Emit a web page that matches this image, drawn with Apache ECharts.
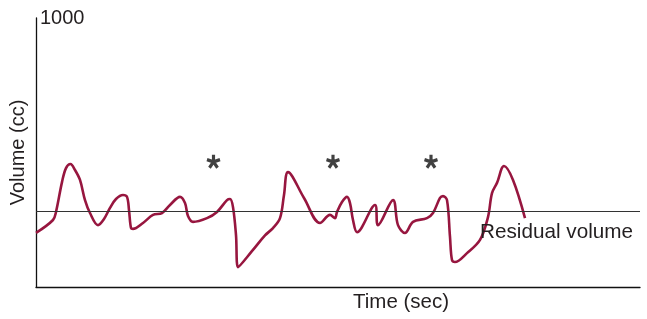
<!DOCTYPE html>
<html>
<head>
<meta charset="utf-8">
<script src="https://cdn.jsdelivr.net/npm/echarts@6/dist/echarts.min.js"></script>
<style>
  html, body { margin: 0; padding: 0; background: #fff; }
  #chart { width: 647px; height: 319px; }
</style>
</head>
<body>
<div id="chart"></div>
<script>
  // traced volume curve (time in arbitrary sec units, volume in cc)
  const times = [
    0, 1.7, 2.0, 2.6, 3.0, 3.45, 3.9, 4.4, 4.9, 5.4, 6.2, 6.8, 7.4, 8.0, 8.7,
    9.1, 9.3, 9.5, 9.7, 10.7, 11.7, 12.6, 13.4, 14.4, 14.9, 15.2, 15.7, 17.1,
    18.1, 19.1, 19.4, 19.7, 20.0, 20.2, 21.7, 22.9, 23.7, 24.4, 24.8, 25.2,
    26.8, 28.4, 29.4, 29.9, 30.1, 30.6, 31.1, 31.4, 31.7, 32.1, 33.9, 34.2,
    35.7, 36.2, 36.9, 37.7, 39.1, 39.7, 40.4, 40.7, 41.1, 41.4, 41.6, 41.9,
    43.1, 44.4, 45.2, 45.6, 46.1, 46.8, 47.7, 48.9
  ];
  const volumes = [
    201, 249, 279, 390, 442, 457, 435, 398, 323, 275, 230, 253, 294, 327, 342,
    335, 286, 219, 216, 238, 268, 275, 305, 335, 312, 264, 242, 256,
    279, 323, 327, 297, 193, 74, 138, 192, 219, 256, 342, 427,
    331, 238, 268, 256, 279, 316, 335, 312, 249, 204, 305, 230,
    323, 230, 201, 242, 256, 275, 331, 338, 323, 186, 100, 93,
    126, 175, 260, 349, 387, 450, 398, 256
  ];
  const residualVolume = 280;
  const yMax = 1000;
  const tMax = 60.4;
  // asterisk markers
  const starTimes = [17.75, 29.7, 39.5];
  const starVolume = 466;

  const FONT = 'Liberation Sans';
  const TEXT = '#231f20';
  const LINE = '#97163f';

  // five-armed asterisk
  const STAR = 'path://M1.5 0L1.5 -6.5L-1.5 -6.5L-1.5 0Z' +
    'M0.464 1.427L6.64 -0.58L5.71 -3.44L-0.464 -1.427Z' +
    'M0.464 -1.427L-5.71 -3.44L-6.64 -0.58L-0.464 1.427Z' +
    'M-1.214 0.882L2.61 6.14L5.03 4.38L1.214 -0.882Z' +
    'M-1.214 -0.882L-5.03 4.38L-2.61 6.14L1.214 0.882Z';

  const chart = echarts.init(document.getElementById('chart'));

  chart.setOption({
    animation: false,
    grid: {
      left: 36, right: 7, top: 18, bottom: 32,
      containLabel: false,
      outerBoundsMode: 'none'
    },
    xAxis: {
      type: 'value',
      min: 0,
      max: tMax,
      axisLine: { show: true, lineStyle: { color: '#111', width: 1.3 } },
      axisTick: { show: false },
      axisLabel: { show: false },
      splitLine: { show: false }
    },
    yAxis: {
      type: 'value',
      min: 0,
      max: yMax,
      interval: yMax,
      name: 'Volume (cc)',
      nameLocation: 'middle',
      nameGap: 8,
      nameTextStyle: { fontFamily: FONT, fontSize: 20, color: TEXT },
      axisLine: { show: true, lineStyle: { color: '#111', width: 1.3 } },
      axisTick: { show: false },
      splitLine: { show: false },
      axisLabel: {
        inside: true,
        margin: 4,
        fontFamily: FONT,
        fontSize: 20,
        color: TEXT,
        formatter: v => (v === yMax ? String(yMax) : '')
      }
    },
    graphic: [
      {
        type: 'text',
        left: 353,
        top: 292,
        style: { text: 'Time (sec)', font: '20.5px "Liberation Sans"', fill: TEXT }
      }
    ],
    series: [
      {
        type: 'line',
        data: times.map((t, i) => [t, volumes[i]]),
        showSymbol: false,
        smooth: 0.35,
        lineStyle: { color: LINE, width: 2.6 },
        z: 3,
        markLine: {
          silent: true,
          symbol: 'none',
          lineStyle: { color: '#333', width: 1, type: 'solid' },
          label: {
            position: 'insideEndBottom',
            formatter: 'Residual volume',
            fontFamily: FONT,
            fontSize: 20.7,
            color: TEXT,
            distance: [7, 10]
          },
          data: [{ yAxis: residualVolume }]
        }
      },
      {
        type: 'scatter',
        data: starTimes.map(t => [t, starVolume]),
        symbol: STAR,
        symbolSize: [14, 14],
        itemStyle: { color: '#111' },
        z: 4
      }
    ]
  });
</script>
</body>
</html>
